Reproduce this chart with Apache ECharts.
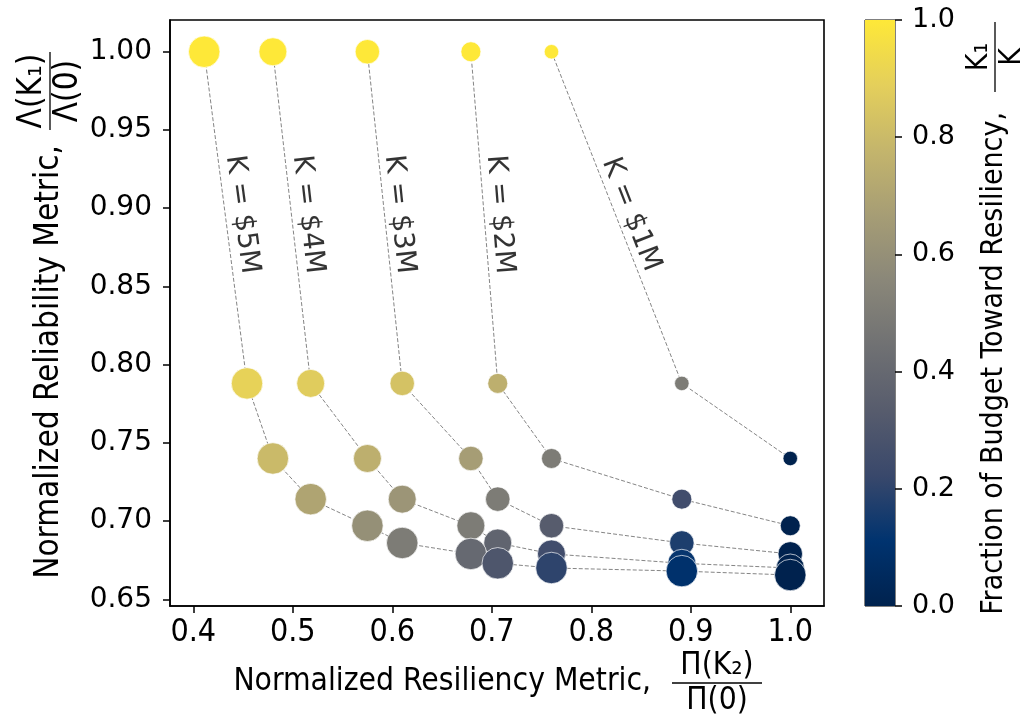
<!DOCTYPE html>
<html>
<head>
<meta charset="utf-8">
<script src="https://cdn.jsdelivr.net/npm/echarts@6/dist/echarts.min.js"></script>
<style>html,body{margin:0;padding:0;background:#fff}#chart{width:1023px;height:714px}</style>
</head>
<body>
<div id="chart"></div>
<script>
// budget levels
var budgets = ['$1M', '$2M', '$3M', '$4M', '$5M'];

// resiliency (x), reliability (y), fraction of budget toward resiliency (f)
var k1X = [0.760, 0.891, 1.0];
var k1Y = [1.0, 0.788, 0.740];
var k1F = [1.0, 0.5, 0.0];

var k2X = [0.679, 0.706, 0.760, 0.891, 1.0];
var k2Y = [1.0, 0.788, 0.740, 0.714, 0.697];
var k2F = [1.0, 0.75, 0.5, 0.25, 0.0];

var k3X = [0.575, 0.610, 0.679, 0.706, 0.760, 0.891, 1.0];
var k3Y = [1.0, 0.788, 0.740, 0.714, 0.697, 0.686, 0.679];
var k3F = [1.0, 0.833, 0.667, 0.5, 0.333, 0.167, 0.0];

var k4X = [0.480, 0.518, 0.575, 0.610, 0.679, 0.706, 0.760, 0.891, 1.0];
var k4Y = [1.0, 0.788, 0.740, 0.714, 0.697, 0.686, 0.679, 0.673, 0.670];
var k4F = [1.0, 0.875, 0.75, 0.625, 0.5, 0.375, 0.25, 0.125, 0.0];

var k5X = [0.411, 0.454, 0.480, 0.518, 0.575, 0.610, 0.679, 0.706, 0.760, 0.891, 1.0];
var k5Y = [1.0, 0.788, 0.740, 0.714, 0.697, 0.686, 0.679, 0.673, 0.670, 0.668, 0.6655];
var k5F = [1.0, 0.9, 0.8, 0.7, 0.6, 0.5, 0.4, 0.3, 0.2, 0.1, 0.0];

// tick labels
var xTicks = [0.4, 0.5, 0.6, 0.7, 0.8, 0.9, 1.0];
var yTicks = [0.65, 0.70, 0.75, 0.80, 0.85, 0.90, 0.95, 1.00];
var cbTicks = [0.0, 0.2, 0.4, 0.6, 0.8, 1.0];

var cividis = ['#00224e', '#00336f', '#39486b', '#575c6d', '#707173',
               '#8a8779', '#a69d75', '#c4b56c', '#e4cf5b', '#fee838'];

var condensed = "'DejaVu Sans Condensed', 'Liberation Sans Narrow', 'DejaVu Sans', sans-serif";
var regular = "'DejaVu Sans', sans-serif";

var groups = [
  { x: k1X, y: k1Y, f: k1F },
  { x: k2X, y: k2Y, f: k2F },
  { x: k3X, y: k3Y, f: k3F },
  { x: k4X, y: k4Y, f: k4F },
  { x: k5X, y: k5Y, f: k5F }
];
var sizes = [14.5, 20, 24.5, 28, 31.5];

// where the "K = ..." labels sit (data coords) and their rotation
var labelAt = [
  { x: 0.840, y: 0.896, rot: -68.7 },
  { x: 0.708, y: 0.896, rot: -85.5 },
  { x: 0.607, y: 0.896, rot: -84 },
  { x: 0.515, y: 0.896, rot: -83.5 },
  { x: 0.449, y: 0.896, rot: -82.3 }
];

var series = [];
groups.forEach(function (g) {
  series.push({
    type: 'line',
    data: g.x.map(function (v, i) { return [v, g.y[i]]; }),
    symbol: 'none',
    silent: true,
    z: 1,
    lineStyle: { color: '#858585', width: 1, type: [4, 2] }
  });
});
groups.forEach(function (g, k) {
  series.push({
    type: 'scatter',
    data: g.x.map(function (v, i) { return [v, g.y[i], g.f[i]]; }),
    symbolSize: sizes[k],
    z: 2,
    itemStyle: { borderColor: 'rgba(255,255,255,0.85)', borderWidth: 0.8, opacity: 1 }
  });
});
series.push({
  type: 'scatter',
  symbolSize: 0,
  silent: true,
  z: 3,
  data: labelAt.map(function (p, k) {
    return {
      value: [p.x, p.y],
      name: 'K = ' + budgets[k],
      label: { rotate: p.rot }
    };
  }),
  label: {
    show: true,
    position: 'inside',
    formatter: '{b}',
    color: '#000',
    fontSize: 28,
    fontFamily: regular
  }
});
series.push({
  type: 'bar',
  xAxisIndex: 1,
  yAxisIndex: 1,
  data: [1],
  barWidth: '100%',
  silent: true,
  itemStyle: {
    color: new echarts.graphic.LinearGradient(0, 1, 0, 0,
      cividis.map(function (c, i) { return { offset: i / (cividis.length - 1), color: c }; }))
  }
});

function fracLabel(x, y, rot, main, num, den, w, size, gap) {
  var base = { fill: '#000', fontSize: size, fontFamily: condensed };
  function st(o) { return Object.assign({}, base, o); }
  return {
    type: 'group', x: x, y: y, rotation: rot,
    children: [
      { type: 'text', style: st({ text: main, x: -gap, y: -1, textAlign: 'right', textVerticalAlign: 'middle', align: 'right', verticalAlign: 'middle' }) },
      { type: 'text', style: st({ text: num, x: w / 2, y: -1, textAlign: 'center', textVerticalAlign: 'bottom', align: 'center', verticalAlign: 'bottom' }) },
      { type: 'line', shape: { x1: 0, y1: 0, x2: w, y2: 0 }, style: { stroke: '#000', lineWidth: 1.3 } },
      { type: 'text', style: st({ text: den, x: w / 2, y: 2, textAlign: 'center', textVerticalAlign: 'top', align: 'center', verticalAlign: 'top' }) }
    ]
  };
}

var option = {
  animation: false,
  backgroundColor: '#fff',
  grid: [
    { left: 170, top: 20, width: 654, height: 586, show: true, borderColor: '#000', borderWidth: 1.6, containLabel: false },
    { left: 865, top: 20, width: 30, height: 586, show: true, borderColor: '#000', borderWidth: 1, containLabel: false }
  ],
  xAxis: [
    {
      type: 'value', min: 0.3766, max: 1.0339,
      splitLine: { show: false },
      axisLine: { show: true, lineStyle: { color: '#000', width: 1.6 } },
      axisTick: { show: true, customValues: xTicks, length: 7, lineStyle: { color: '#000', width: 1.5 } },
      axisLabel: {
        customValues: xTicks, margin: 11, color: '#000', fontSize: 32, fontFamily: condensed,
        formatter: function (v) { return v.toFixed(1); }
      }
    },
    { type: 'category', gridIndex: 1, data: ['cb'], show: false }
  ],
  yAxis: [
    {
      type: 'value', min: 0.6457, max: 1.0203,
      splitLine: { show: false },
      axisLine: { show: true, lineStyle: { color: '#000', width: 1.6 } },
      axisTick: { show: true, customValues: yTicks, length: 7, lineStyle: { color: '#000', width: 1.5 } },
      axisLabel: {
        customValues: yTicks, margin: 18, color: '#000', fontSize: 28, fontFamily: regular,
        formatter: function (v) { return v.toFixed(2); }
      }
    },
    {
      type: 'value', gridIndex: 1, min: 0, max: 1, position: 'right',
      splitLine: { show: false },
      axisLine: { show: false },
      axisTick: { show: true, customValues: cbTicks, length: 7, lineStyle: { color: '#000', width: 1.5 } },
      axisLabel: {
        customValues: cbTicks, margin: 17, color: '#000', fontSize: 27, fontFamily: regular,
        formatter: function (v) { return v.toFixed(1); }
      }
    }
  ],
  visualMap: {
    type: 'continuous', show: false, min: 0, max: 1, dimension: 2,
    seriesIndex: [5, 6, 7, 8, 9],
    inRange: { color: cividis }
  },
  graphic: [
    fracLabel(672, 683, 0, 'Normalized Resiliency Metric,', 'Π(K₂)', 'Π(0)', 90, 31.5, 21),
    fracLabel(50, 130, Math.PI / 2, 'Normalized Reliability Metric,', 'Λ(K₁)', 'Λ(0)', 78, 33, 15),
    fracLabel(995, 92, Math.PI / 2, 'Fraction of Budget Toward Resiliency,', 'K₁', 'K', 70, 30, 20)
  ],
  series: series
};

var myChart = echarts.init(document.getElementById('chart'));
myChart.setOption(option, true);
</script>
</body>
</html>
